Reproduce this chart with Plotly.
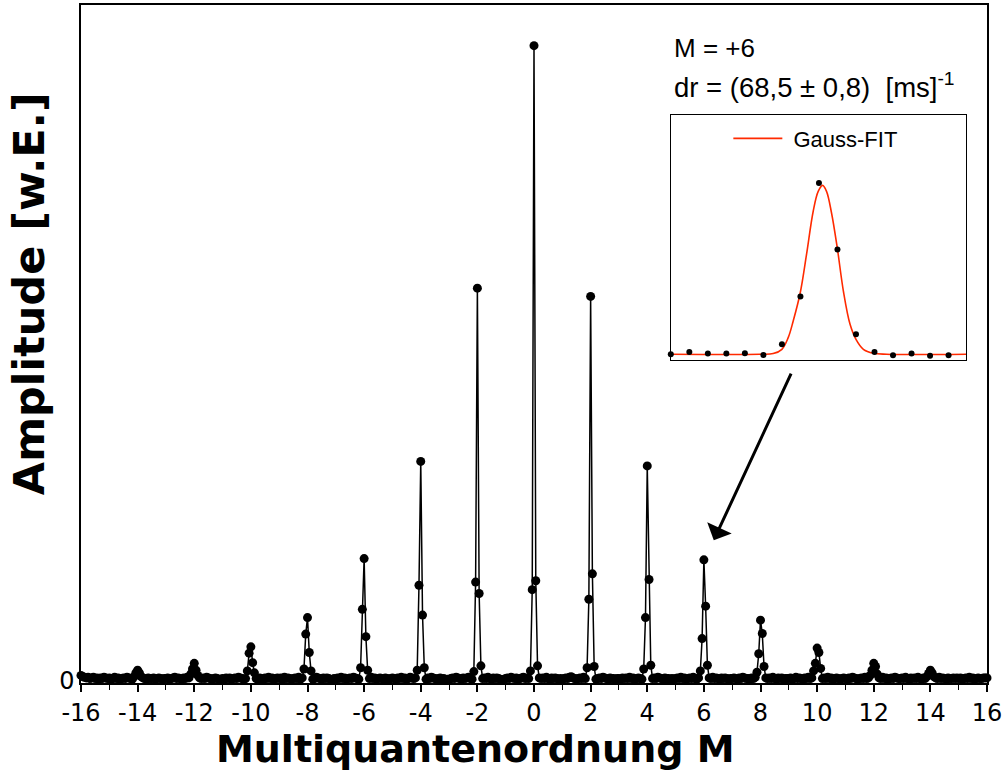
import numpy as np
import plotly.graph_objects as go

# ---------------- data ----------------
# baseline amplitude (x 1/1000) sampled every 1/16 of an order, from M=-16 to M=+16
baseline_milli = [
    8, 6, 5, 4, 5, 3, 4, 5, 3, 4, 2, 4, 3, 5, 4, 3,   # -16
    4, 2, 3, 5, 3, 4, 2, 3, 4, 3, 5, 4, 3, 2, 4, 3,   # -15
    5, 4, 3, 4, 3, 2, 4, 3, 3, 4, 2, 3, 4, 3, 2, 3,   # -14
    3, 4, 2, 3, 4, 5, 3, 4, 3, 2, 4, 3, 5, 4, 3, 4,   # -13
    4, 3, 2, 4, 3, 4, 3, 5, 4, 3, 2, 3, 4, 3, 2, 2,   # -12
    3, 2, 4, 3, 4, 2, 3, 4, 3, 5, 4, 3, 2, 3, 4, 3,   # -11
    4, 3, 5, 3, 2, 4, 3, 2, 4, 3, 5, 3, 4, 2, 3, 4,   # -10
    3, 4, 2, 5, 3, 4, 3, 2, 3, 4, 3, 5, 2, 4, 3, 3,   # -9
    4, 3, 4, 2, 3, 5, 4, 3, 2, 4, 3, 4, 3, 2, 1, 3,   # -8
    2, 4, 3, 5, 3, 4, 2, 3, 4, 3, 5, 4, 3, 2, 3, 4,   # -7
    3, 2, 4, 3, 5, 3, 4, 2, 3, 4, 3, 2, 4, 3, 2, 3,   # -6
    4, 3, 2, 4, 3, 5, 3, 4, 2, 3, 5, 4, 3, 4, 2, 3,   # -5
    3, 4, 3, 2, 4, 3, 5, 4, 3, 2, 3, 4, 2, 3, 1, 2,   # -4
    2, 3, 4, 3, 5, 4, 3, 2, 4, 3, 4, 5, 3, 2, 3, 4,   # -3
    3, 4, 2, 3, 4, 3, 5, 3, 2, 4, 3, 4, 3, 2, 1, 2,   # -2
    3, 4, 3, 5, 4, 3, 4, 2, 3, 4, 5, 3, 4, 3, 2, 3,   # -1
    4, 3, 2, 4, 3, 4, 3, 5, 3, 2, 4, 3, 4, 3, 2, 3,   # 0
    2, 3, 4, 3, 5, 6, 4, 3, 2, 3, 4, 3, 5, 3, 2, 3,   # 1
    4, 3, 4, 2, 3, 4, 3, 5, 4, 3, 2, 4, 3, 3, 2, 3,   # 2
    3, 2, 4, 3, 4, 3, 5, 3, 4, 2, 3, 4, 3, 2, 3, 4,   # 3
    3, 4, 2, 3, 4, 3, 5, 4, 3, 2, 4, 3, 3, 2, 3, 2,   # 4
    3, 4, 3, 5, 3, 4, 2, 3, 4, 3, 5, 3, 2, 4, 3, 3,   # 5
    4, 3, 2, 4, 3, 5, 3, 4, 3, 2, 4, 3, 4, 3, 2, 3,   # 6
    3, 4, 3, 2, 4, 3, 5, 4, 3, 3, 2, 4, 3, 5, 3, 3,   # 7
    4, 3, 2, 4, 3, 4, 3, 5, 3, 2, 4, 3, 4, 2, 3, 3,   # 8
    3, 4, 2, 3, 5, 3, 4, 3, 2, 4, 3, 5, 3, 4, 3, 2,   # 9
    4, 3, 2, 3, 4, 3, 5, 3, 4, 2, 3, 4, 3, 2, 3, 4,   # 10
    3, 2, 4, 3, 5, 4, 3, 2, 3, 4, 3, 5, 3, 4, 2, 3,   # 11
    4, 3, 2, 4, 3, 5, 3, 4, 2, 3, 4, 3, 5, 4, 3, 3,   # 12
    4, 3, 5, 3, 2, 4, 3, 4, 3, 5, 3, 2, 4, 3, 4, 3,   # 13
    4, 3, 2, 4, 3, 5, 3, 4, 3, 2, 4, 3, 3, 4, 3, 4,   # 14
    3, 4, 2, 3, 4, 3, 5, 3, 4, 2, 3, 4, 3, 3, 4, 4,   # 15
    4,                                                # 16
]
samples_per_order = 16

# amplitudes of the 5 samples around each even order (offsets -2/16 ... +2/16)
peak_orders = [-14, -12, -10, -8, -6, -4, -2, 0, 2, 4, 6, 8, 10, 12, 14]
peak_profiles = [
    [0.006, 0.012, 0.016, 0.012, 0.006],   # -14
    [0.010, 0.018, 0.027, 0.016, 0.008],   # -12
    [0.015, 0.043, 0.053, 0.028, 0.012],   # -10
    [0.018, 0.073, 0.099, 0.044, 0.015],   # -8
    [0.020, 0.112, 0.192, 0.069, 0.016],   # -6
    [0.016, 0.150, 0.345, 0.103, 0.020],   # -4
    [0.014, 0.155, 0.618, 0.137, 0.023],   # -2
    [0.015, 0.143, 1.000, 0.157, 0.023],   # 0
    [0.020, 0.128, 0.605, 0.168, 0.022],   # 2
    [0.018, 0.099, 0.338, 0.159, 0.024],   # 4
    [0.015, 0.066, 0.190, 0.117, 0.024],   # 6
    [0.013, 0.042, 0.095, 0.074, 0.022],   # 8
    [0.015, 0.027, 0.051, 0.044, 0.019],   # 10
    [0.008, 0.016, 0.027, 0.022, 0.010],   # 12
    [0.006, 0.011, 0.016, 0.012, 0.006],   # 14
]

x_tick_values = list(range(-16, 17, 2))
x_tick_labels = [str(v) for v in x_tick_values]

# inset: M = +6 peak with Gauss fit
inset_index = list(range(16))
inset_amp = [0.0, 0.014, 0.004, 0.004, 0.006, -0.004, 0.058, 0.338,
             1.0, 0.612, 0.117, 0.014, -0.006, 0.004, -0.008, -0.006]
fit_x = [0, 4.8, 5.53, 6.0, 6.34, 6.61, 6.99, 7.33, 7.69, 7.96, 8.2,
         8.41, 8.68, 8.99, 9.32, 9.68, 10.0, 10.4, 10.94, 11.66, 15.95]
fit_y = [0, 0, 0.004, 0.029, 0.097, 0.194, 0.359, 0.583, 0.835, 0.951, 0.986,
         0.951, 0.825, 0.621, 0.369, 0.175, 0.087, 0.029, 0.006, 0, 0]

# ---------------- build series ----------------
n = len(baseline_milli)
m_values = np.linspace(-16, 16, n)
amplitude = np.array(baseline_milli, dtype=float) / 1000.0
for order, prof in zip(peak_orders, peak_profiles):
    i = int(round((order + 16) * samples_per_order))
    amplitude[i - 2:i + 3] = prof

AX_FONT = "DejaVu Sans"
TXT_FONT = "Arial, Liberation Sans, Helvetica, sans-serif"

fig = go.Figure()
fig.add_trace(go.Scatter(
    x=m_values, y=amplitude, mode="lines+markers",
    line=dict(color="black", width=1.5),
    marker=dict(color="black", size=9),
    showlegend=False, cliponaxis=False, hoverinfo="x+y",
))
fig.add_trace(go.Scatter(
    x=fit_x, y=fit_y, mode="lines", line=dict(color="#ff2a00", width=1.6, shape="spline"),
    name=" Gauss-FIT", xaxis="x2", yaxis="y2", showlegend=True,
))
fig.add_trace(go.Scatter(
    x=inset_index, y=inset_amp, mode="markers",
    marker=dict(color="black", size=6),
    xaxis="x2", yaxis="y2", showlegend=False, cliponaxis=False,
))

fig.update_layout(
    width=1008, height=782,
    margin=dict(l=81, r=21, t=3, b=99),
    paper_bgcolor="white", plot_bgcolor="white",
    xaxis=dict(
        range=[-16, 16], tickvals=x_tick_values, ticktext=x_tick_labels,
        ticks="outside", ticklen=7, tickwidth=1.5, tickcolor="black",
        minor=dict(dtick=1, ticks="outside", ticklen=5, tickwidth=1.2, tickcolor="black"),
        showline=True, linewidth=1.5, linecolor="black", mirror=True,
        showgrid=False, zeroline=False,
        tickfont=dict(family=AX_FONT, size=24, color="black"),
    ),
    yaxis=dict(
        range=[-0.004, 1.064], tickvals=[0], ticktext=["0"], ticks="",
        showline=True, linewidth=1.5, linecolor="black", mirror=True,
        showgrid=False, zeroline=False,
        tickfont=dict(family=AX_FONT, size=24, color="black"),
    ),
    xaxis2=dict(
        domain=[0.651, 0.977], anchor="y2", range=[0, 15.95],
        showline=True, linewidth=1, linecolor="black", mirror=True,
        showticklabels=False, ticks="", showgrid=False, zeroline=False,
    ),
    yaxis2=dict(
        domain=[0.476, 0.838], anchor="x2", range=[-0.035, 1.398],
        showline=True, linewidth=1, linecolor="black", mirror=True,
        showticklabels=False, ticks="", showgrid=False, zeroline=False,
    ),
    legend=dict(
        x=0.7145, y=0.834, xanchor="left", yanchor="top",
        bgcolor="rgba(0,0,0,0)", borderwidth=0,
        font=dict(family=TXT_FONT, size=22, color="black"),
        itemwidth=49,
    ),
    annotations=[
        dict(text="Multiquantenordnung M", xref="paper", yref="paper",
             x=(475 - 81) / 906, y=(683 - 749) / 680, xanchor="center", yanchor="middle",
             showarrow=False, font=dict(family=AX_FONT, size=38, color="black", weight="bold")),
        dict(text="Amplitude [w.E.]", xref="paper", yref="paper", textangle=-90,
             x=(29 - 81) / 906, y=(683 - 293) / 680, xanchor="center", yanchor="middle",
             showarrow=False, font=dict(family=AX_FONT, size=43, color="black", weight="bold")),
        dict(text="M = +6", xref="paper", yref="paper",
             x=(672 - 81) / 906, y=(683 - 46) / 680, xanchor="left", yanchor="middle",
             showarrow=False, font=dict(family=TXT_FONT, size=26, color="black")),
        dict(text="dr = (68,5 ± 0,8)&nbsp; [ms]<sup>-1</sup>", xref="paper", yref="paper",
             x=(672 - 81) / 906, y=(683 - 84) / 680, xanchor="left", yanchor="middle",
             showarrow=False, font=dict(family=TXT_FONT, size=27.5, color="black")),
        dict(text="", xref="x", yref="y", x=6.35, y=0.221, ax=78, ay=-168,
             showarrow=True, arrowhead=1, arrowsize=1.5, arrowwidth=3, arrowcolor="black"),
    ],
)

fig.write_html("out.html")
